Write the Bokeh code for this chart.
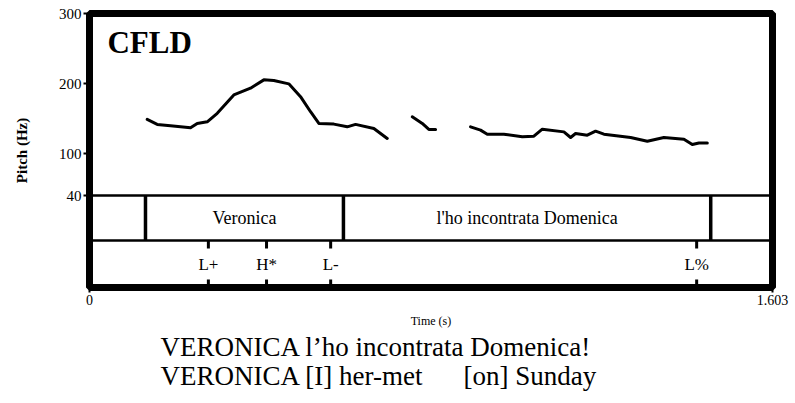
from bokeh.plotting import figure
from bokeh.layouts import column
from bokeh.models import Range1d, FixedTicker, Label, ColumnDataSource
from bokeh.core.properties import value
from bokeh.embed import file_html
from bokeh.resources import INLINE

# ---------------- data ----------------
t_end = 1.603
y_ticks = [40, 100, 200, 300]
x_ticks = [0, 1.603]

seg1_t = [0.1354, 0.1589, 0.1901, 0.2371, 0.2528, 0.2763, 0.2998, 0.3387, 0.3779,
          0.4092, 0.4326, 0.4678, 0.4953, 0.5188, 0.5383, 0.5735, 0.6049, 0.6244,
          0.6674, 0.6988]
seg1_hz = [148.7, 141.6, 139.6, 136.7, 143.0, 145.3, 157.4, 183.7, 193.3,
           205.2, 204.2, 199.5, 181.2, 159.7, 143.0, 142.0, 138.1, 141.6,
           135.8, 121.5]
seg2_t = [0.7575, 0.7810, 0.7965, 0.8122]
seg2_hz = [152.5, 143.0, 134.4, 134.4]
seg3_t = [0.8944, 0.9178, 0.9336, 0.9725, 1.0157, 1.0430, 1.0627, 1.1134, 1.1291,
          1.1408, 1.1683, 1.1878, 1.2073, 1.2700, 1.3092, 1.3481, 1.3951, 1.4148,
          1.4303, 1.4500]
seg3_hz = [138.1, 133.4, 127.6, 127.6, 123.8, 124.8, 134.8, 130.9, 122.9,
           128.6, 126.2, 131.9, 127.6, 122.9, 117.6, 122.9, 120.5, 112.8,
           115.1, 115.1]

word_bounds = [0.1314, 0.596, 1.458]
word_start = [0.1314, 0.596]
word_end = [0.596, 1.458]
word_labels = ["Veronica", "l'ho incontrata Domenica"]

tone_t = [0.279, 0.4155, 0.566, 1.425]
tone_labels = ["L+", "H*", "L-", "L%"]

sentence_lines = ["VERONICA l\u2019ho incontrata Domenica!", "VERONICA [I] her-met", "[on] Sunday"]

# ---------------- layout constants ----------------
Y_TOP = 300
Y_BOT = -91.4
TIER1_TOP = 40
TIER_SEP = -24.3
TICK_LEN = 11.5
SERIF = "Liberation Serif"
FRAME_L, FRAME_R = 89, 772

p = figure(width=795, height=333, output_backend="svg", toolbar_location=None,
           x_range=Range1d(0, t_end), y_range=Range1d(Y_BOT, Y_TOP),
           min_border_left=FRAME_L, min_border_right=795 - FRAME_R, min_border_top=13,
           min_border_bottom=46)
p.background_fill_color = "white"
p.border_fill_color = "white"
p.outline_line_color = "black"
p.outline_line_width = 7
p.grid.visible = False

# axes
p.yaxis.ticker = FixedTicker(ticks=y_ticks)
p.xaxis.ticker = FixedTicker(ticks=x_ticks)
p.xaxis.major_label_overrides = {0: "0", 1.603: "1.603"}
for ax in (p.xaxis, p.yaxis):
    ax.axis_line_color = None
    ax.minor_tick_line_color = None
    ax.major_tick_in = 0
    ax.major_tick_line_color = "black"
    ax.major_tick_line_width = 2
    ax.major_label_text_font = SERIF
    ax.major_label_text_color = "black"
    ax.major_label_text_font_size = "15px"
    ax.axis_label_text_font = SERIF
    ax.axis_label_text_color = "black"
    ax.axis_label_text_font_style = "normal"
p.xaxis.major_label_text_font_size = "14px"
p.yaxis.major_tick_out = 6
p.yaxis.major_label_standoff = 2
p.xaxis.major_tick_out = 5
p.xaxis.major_label_standoff = 2
p.yaxis.axis_label = "Pitch (Hz)"
p.yaxis.axis_label_text_font_style = "bold"
p.yaxis.axis_label_text_font_size = "15px"
p.yaxis.axis_label_standoff = 26
p.xaxis.axis_label = "Time (s)"
p.xaxis.axis_label_text_font_size = "12px"
p.xaxis.axis_label_standoff = 6

# pitch contour
for ts, hz in ((seg1_t, seg1_hz), (seg2_t, seg2_hz), (seg3_t, seg3_hz)):
    p.line(ts, hz, line_color="black", line_width=3, line_join="round", line_cap="round")

# tier lines
p.segment(x0=[0, 0], y0=[TIER1_TOP, TIER_SEP], x1=[t_end, t_end], y1=[TIER1_TOP, TIER_SEP],
          line_color="black", line_width=2.5)
p.segment(x0=word_bounds, y0=[TIER1_TOP] * len(word_bounds), x1=word_bounds,
          y1=[TIER_SEP] * len(word_bounds), line_color="black", line_width=3.5)

word_src = ColumnDataSource(dict(x=[(a + b) / 2 for a, b in zip(word_start, word_end)],
                                 y=[(TIER1_TOP + TIER_SEP) / 2] * len(word_labels),
                                 text=word_labels))
p.text(x="x", y="y", text="text", source=word_src, text_font=value(SERIF),
       text_font_size="18px", text_align="center", text_baseline="middle", text_color="black")

# tone tier
p.segment(x0=tone_t, y0=[TIER_SEP] * len(tone_t), x1=tone_t, y1=[TIER_SEP - TICK_LEN] * len(tone_t),
          line_color="black", line_width=3)
p.segment(x0=tone_t, y0=[Y_BOT] * len(tone_t), x1=tone_t, y1=[Y_BOT + TICK_LEN] * len(tone_t),
          line_color="black", line_width=3)
tone_src = ColumnDataSource(dict(x=tone_t, y=[(TIER_SEP + Y_BOT) / 2] * len(tone_t),
                                 text=tone_labels))
p.text(x="x", y="y", text="text", source=tone_src, text_font=value(SERIF),
       text_font_size="17px", text_align="center", text_baseline="middle", text_color="black")

# title inside
p.add_layout(Label(x=0.0422, y=258.6, text="CFLD", text_font=SERIF, text_font_size="31px",
                   text_font_style="bold", text_color="black", text_baseline="middle"))

# ---------------- sentence panel (page-pixel coordinates) ----------------
p2 = figure(width=795, height=67, output_backend="svg", toolbar_location=None,
            x_range=Range1d(FRAME_L, FRAME_R), y_range=Range1d(67, 0),
            min_border_left=FRAME_L, min_border_right=795 - FRAME_R,
            min_border_top=0, min_border_bottom=0)
p2.axis.visible = False
p2.grid.visible = False
p2.outline_line_color = None
p2.background_fill_color = "white"
p2.border_fill_color = "white"
sent_src = ColumnDataSource(dict(x=[160, 160, 463], y=[13, 42, 42], text=sentence_lines))
p2.text(x="x", y="y", text="text", source=sent_src, text_font=value(SERIF),
        text_font_size="27px", text_align="left", text_baseline="middle", text_color="black")

layout = column(p, p2, spacing=0)
open("out.html", "w").write(file_html(layout, INLINE))
